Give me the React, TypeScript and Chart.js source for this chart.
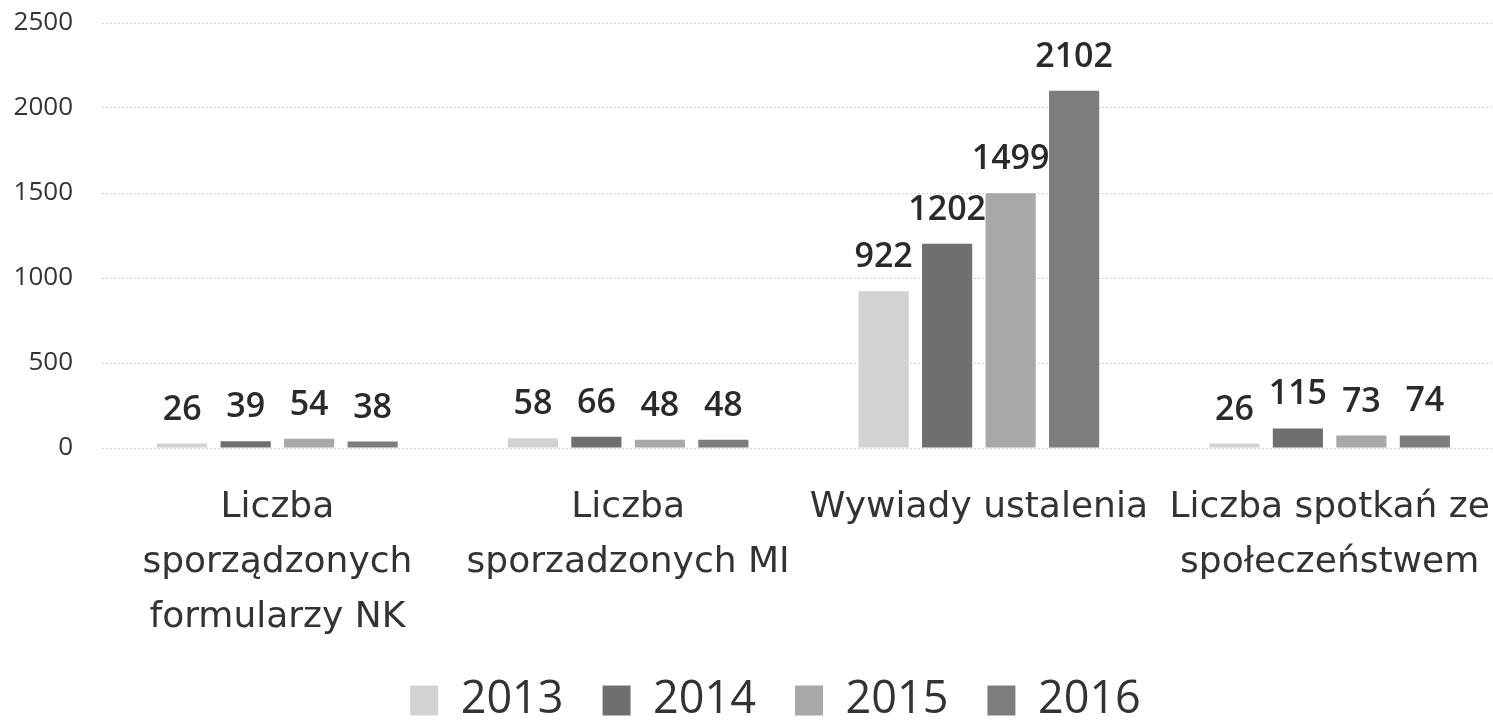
import React, { useEffect, useRef } from "react";
import { Chart, registerables } from "chart.js";

Chart.register(...registerables);

const categories: string[][] = [
  ["Liczba", "sporządzonych", "formularzy NK"],
  ["Liczba", "sporzadzonych MI"],
  ["Wywiady ustalenia"],
  ["Liczba spotkań ze", "społeczeństwem"],
];
const seriesNames = ["2013", "2014", "2015", "2016"];
const values2013 = [26, 58, 922, 26];
const values2014 = [39, 66, 1202, 115];
const values2015 = [54, 48, 1499, 73];
const values2016 = [38, 48, 2102, 74];
const seriesColors = ["#d2d2d2", "#6f6f6f", "#a8a8a8", "#7d7d7d"];
const yTicks = [0, 500, 1000, 1500, 2000, 2500];

const FONT = "'Open Sans', 'DejaVu Sans', sans-serif";
const LABEL_FONT = "'DejaVu Sans', sans-serif";

const valueLabels = {
  id: "valueLabels",
  afterDatasetsDraw(chart: any) {
    const ctx = chart.ctx;
    ctx.save();
    ctx.font = `600 34px ${FONT}`;
    ctx.fillStyle = "#2a2a2a";
    ctx.textAlign = "center";
    ctx.textBaseline = "alphabetic";
    chart.data.datasets.forEach((ds: any, i: number) => {
      const meta = chart.getDatasetMeta(i);
      meta.data.forEach((bar: any, j: number) => {
        ctx.fillText(String(ds.data[j]), bar.x, bar.y - 24);
      });
    });
    ctx.restore();
  },
};

// The source chart's category band runs slightly past the right edge of the picture.
const layoutTweaks = {
  id: "layoutTweaks",
  afterLayout(chart: any) {
    if (chart.legend) {
      chart.legend.left += 29;
      chart.legend.right += 29;
    }
    const xs = chart.scales.x;
    if (xs) {
      xs.right = xs.right + 12;
      xs.width = xs.right - xs.left;
      xs.configure();
    }
  },
};

export default function App() {
  const ref = useRef<HTMLCanvasElement | null>(null);
  useEffect(() => {
    if (!ref.current) return;
    const allValues = [values2013, values2014, values2015, values2016];
    const chart = new Chart(ref.current, {
      type: "bar",
      data: {
        labels: categories,
        datasets: seriesNames.map((name, i) => ({
          label: name,
          data: allValues[i],
          backgroundColor: seriesColors[i],
          borderWidth: 0,
          categoryPercentage: 0.724,
          barPercentage: 0.79,
        })),
      },
      options: {
        responsive: false,
        animation: false,
        layout: { padding: { top: 23, right: 0, left: 0, bottom: -12 } },
        plugins: {
          tooltip: { enabled: false },
          legend: {
            position: "bottom",
            labels: {
              font: { family: FONT, size: 45 },
              color: "#333333",
              boxWidth: 28,
              boxHeight: 30,
              padding: 39,
            },
          },
        },
        scales: {
          x: {
            grid: { display: false },
            border: { display: false },
            afterFit: (scale: any) => {
              scale.height = 191;
              scale.paddingLeft = 0;
              scale.paddingRight = 0;
            },
            ticks: {
              font: { family: LABEL_FONT, size: 36, lineHeight: 1.53 },
              color: "#333333",
              padding: 24,
              maxRotation: 0,
              autoSkip: false,
            },
          },
          y: {
            min: 0,
            max: 2500,
            afterBuildTicks: (scale: any) => {
              scale.ticks = yTicks.map((v) => ({ value: v }));
            },
            afterFit: (scale: any) => {
              scale.width = 102;
              scale.paddingTop = 0;
              scale.paddingBottom = 0;
            },
            grid: {
              color: "#d0d0d0",
              lineWidth: 1,
              drawTicks: false,
            },
            border: { display: false, dash: [2, 2] },
            ticks: {
              font: { family: FONT, size: 26 },
              color: "#333333",
              padding: 29,
              callback: (v: any) => String(v),
            },
          },
        },
      },
      plugins: [valueLabels, layoutTweaks],
    });
    return () => chart.destroy();
  }, []);
  return (
    <div style={{ position: "fixed", left: 0, top: 0, width: 1493, height: 721, background: "#ffffff" }}>
      <canvas ref={ref} width={1493} height={721} style={{ display: "block" }} />
    </div>
  );
}
